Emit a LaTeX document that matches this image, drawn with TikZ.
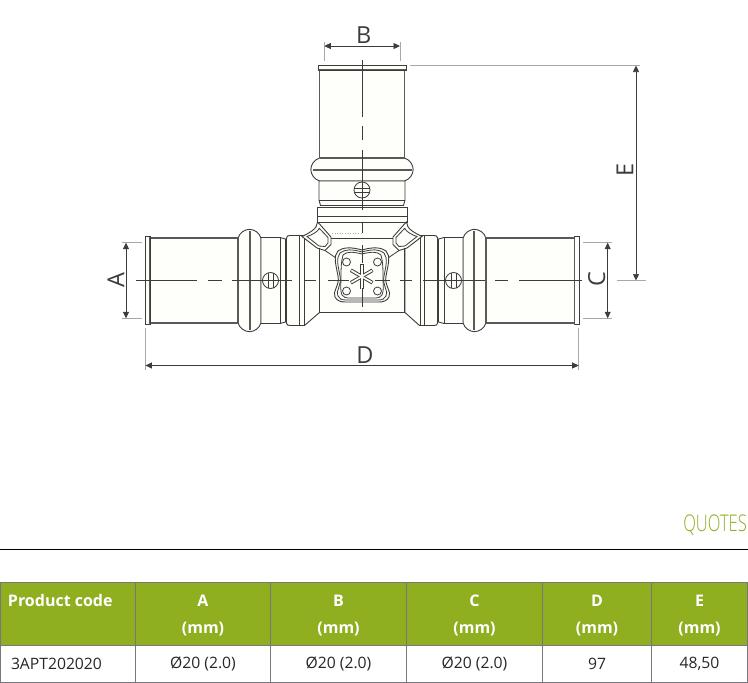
\documentclass[tikz,border=0pt]{standalone}
\usepackage{fontspec}
\usepackage{tikz}
\usetikzlibrary{arrows.meta}
\setmainfont{Open Sans}
\newfontfamily\lightfont{Open Sans Light}
\definecolor{linedark}{HTML}{3A3D3A}
\definecolor{linegray}{HTML}{A8A8A8}
\definecolor{headgreen}{HTML}{8FAE20}
\definecolor{cellgray}{HTML}{77777F}
\definecolor{tubecream}{HTML}{FEFEFA}
\tikzset{
	part/.style = {draw = linedark, line width = 0.9pt, fill = tubecream},
	edge/.style = {draw = linedark, line width = 0.8pt},
	heavy/.style = {draw = linedark!85, line width = 1.8pt},
	tubeline/.style = {draw = linedark!85, line width = 1.3pt},
	axisline/.style = {draw = linedark, line width = 0.9pt},
	extline/.style = {draw = linegray, line width = 0.9pt},
	dimline/.style = {draw = linedark, line width = 0.7pt, {Triangle[length=6.5pt,width=6pt]}-{Triangle[length=6.5pt,width=6pt]}},
	dimtext/.style = {font = \fontsize{23.5}{24}\selectfont, text = linedark, inner sep = 0pt},
	headcell/.style = {draw = cellgray, fill = headgreen, line width = 0.9pt, text = white, font = \fontsize{16}{19}\selectfont\bfseries, minimum height = 63pt, anchor = north west, inner sep = 0pt, outer sep = 0pt, align = center},
	bodycell/.style = {draw = cellgray, line width = 0.9pt, text = black!85, font = \fontsize{15.7}{15.7}\selectfont, minimum height = 37pt, anchor = north west, inner sep = 0pt, outer sep = 0pt},
}
% one press end, measured from the flange outwards
\newcommand{\pressarm}{
	\path[part, draw = none] (5,-42.5) rectangle (93,42.5);
	\draw[part] (93,-42.5) .. controls (97,-54) and (112,-54) .. (116,-42.5) -- (116,42.5) .. controls (112,54) and (97,54) .. (93,42.5) -- cycle;
	\draw[part] (116,-43) -- (135,-43) -- (140.5,-41.5) -- (140.5,41.5) -- (135,43) -- (116,43) -- cycle;
	\draw[tubeline] (5,-42.5) -- (93,-42.5) (5,42.5) -- (93,42.5);
	\draw[part] (0,-44) rectangle (5,44);
	\draw[heavy] (4.5,-44) -- (4.5,44);
	\draw[heavy] (93,-42.5) -- (93,42.5) (105,-49.5) -- (105,49.5);
	\draw[edge] (135,-43) -- (135,43);
}
\begin{document}
\begin{tikzpicture}[x = 1pt, y = -1pt]
	\useasboundingbox (0,0) rectangle (748,683);
	%press ends
	\begin{scope}[shift = {(145,280.5)}]
		\pressarm
	\end{scope}
	\begin{scope}[shift = {(579,280.5)}, x = {(-1pt,0pt)}]
		\pressarm
	\end{scope}
	\begin{scope}[shift = {(362,65)}, x = {(0pt,-1pt)}, y = {(1pt,0pt)}]
		\pressarm
	\end{scope}
	%collars and cones
	\draw[part] (286.5,238) .. controls (286.5,236) and (288,235.5) .. (290,235.5) -- (304.5,235.5) -- (319.5,248) -- (319.5,312.5) -- (304.5,325.5) -- (290,325.5) .. controls (288,325.5) and (286.5,325) .. (286.5,323) -- cycle;
	\draw[part] (437.5,238) .. controls (437.5,236) and (436,235.5) .. (434,235.5) -- (419.5,235.5) -- (405,248) -- (405,312.5) -- (419.5,325.5) -- (434,325.5) .. controls (436,325.5) and (437.5,325) .. (437.5,323) -- cycle;
	\draw[edge] (299.5,235.5) -- (299.5,325.5) (304,235.5) -- (304,325.5) (424.5,235.5) -- (424.5,325.5) (420,235.5) -- (420,325.5);
	\draw[part, draw = none] (319.5,222) rectangle (405,312.5);
	\draw[part] (317,207.5) rectangle (407,222);
	\draw[edge] (317,216) -- (407,216);
	%left and right shoulders
	\foreach \mirror/\base in {1/0, -1/724}{
		\begin{scope}[shift = {(\base,0)}, x = {(\mirror*1pt,0pt)}]
			\draw[part] (317.5,222) .. controls (317.5,229) and (309,233) .. (302,236.5) -- (317,248) -- (325,250.5) -- (331,244.5) -- (331,237) -- (319.5,224) -- cycle;
			\draw[edge] (319,229) .. controls (317,232) and (312,235) .. (307,236.5) -- (319,246) -- (325,246.5) -- (328,243) -- (328,237.5) -- (319,228);
			\draw[edge] (325,250.5) -- (336,258);
			\draw[edge] (319.5,248) -- (319.5,312.5);
		\end{scope}
	}
	\draw[edge] (331,238) -- (393,238);
	\draw[draw = linegray, line width = 0.6pt, dotted] (332,233.5) -- (362,233.5);
	\draw[edge] (319.5,312.5) -- (405,312.5);
	%square boss
	\draw[part] (362,250) .. controls (352,247) and (343,247) .. (338,251) .. controls (333,256) and (336,265) .. (338,276) .. controls (340,285) and (332,292) .. (335,297) .. controls (337,301) and (341,302) .. (345,302) -- (379,302) .. controls (383,302) and (387,301) .. (389,297) .. controls (392,292) and (384,285) .. (386,276) .. controls (388,265) and (391,256) .. (386,251) .. controls (381,247) and (372,247) .. (362,250) -- cycle;
	\draw[edge] (362,252) .. controls (352,249) and (345,249) .. (340,253) .. controls (336,258) and (338,266) .. (340,276) .. controls (342,285) and (335,292) .. (338,296) .. controls (339,299) and (342,300) .. (346,300) -- (378,300) .. controls (382,300) and (385,299) .. (386,296) .. controls (389,292) and (382,285) .. (384,276) .. controls (386,266) and (388,258) .. (384,253) .. controls (379,249) and (372,249) .. (362,252) -- cycle;
	\draw[edge] (362,254) .. controls (354,252) and (347,251) .. (343,255) .. controls (341,262) and (341,270) .. (341,276) .. controls (341,285) and (340,291) .. (342,295) .. controls (344,297.5) and (346,298) .. (348,298) -- (376,298) .. controls (378,298) and (380,297.5) .. (382,295) .. controls (384,291) and (383,285) .. (383,276) .. controls (383,270) and (383,262) .. (381,255) .. controls (377,251) and (370,252) .. (362,254) -- cycle;
	\foreach \cx/\cy in {346.5/262, 377.5/262, 346.5/291, 377.5/291}
		\draw[edge] (\cx,\cy) circle (4);
	%star on the boss
	\foreach \angle in {90, 30, -30}
		\draw[draw = linedark, line width = 3.6pt] (361.7,276.5) ++(\angle:12.5) -- ++(\angle:-25);
	\foreach \angle in {90, 30, -30}
		\draw[draw = tubecream, line width = 1.7pt] (361.7,276.5) ++(\angle:12) -- ++(\angle:-24);
	%center lines
	\draw[axisline] (136,280.5) -- (197,280.5) (208,280.5) -- (222,280.5) (232,280.5) -- (292,280.5);
	\draw[axisline] (305,280.5) -- (316,280.5) (328,280.5) -- (349,280.5) (375,280.5) -- (390,280.5) (400,280.5) -- (412,280.5) (423,280.5) -- (485,280.5) (495,280.5) -- (508,280.5) (519,280.5) -- (582,280.5);
	\draw[axisline] (362,60) -- (362,117) (362,126) -- (362,140) (362,150) -- (362,210) (362,222) -- (362,233) (362,245) -- (362,263) (362,288) -- (362,307);
	%bracket holes
	\foreach \cx/\cy in {270.5/280.5, 453.5/280.5}{
		\draw[edge] (\cx,\cy) circle (8);
		\draw[edge] (\cx-8,\cy) -- (\cx+8,\cy) (\cx-2.5,\cy-7.5) -- (\cx-2.5,\cy+7.5) (\cx+2.5,\cy-7.5) -- (\cx+2.5,\cy+7.5);
	}
	\draw[edge] (362,190) circle (8);
	\draw[edge] (362,182) -- (362,198) (354,188) -- (370,188) (354,192.5) -- (370,192.5);
	%extension lines
	\draw[extline] (121.5,242.7) -- (141.5,242.7) (121.5,318.3) -- (141.5,318.3);
	\draw[extline] (583,242.7) -- (612,242.7) (583,318.3) -- (612,318.3);
	\draw[extline] (324.3,42) -- (324.3,60.5) (400,42) -- (400,60.5);
	\draw[extline] (410,65.5) -- (640,65.5) (617,280.5) -- (646,280.5);
	\draw[extline] (145.4,328) -- (145.4,370) (578.7,328) -- (578.7,370);
	%dimension lines
	\draw[dimline] (126,242.7) -- (126,318.3);
	\draw[dimline] (607.7,242.7) -- (607.7,318.3);
	\draw[dimline] (324.3,46) -- (400,46);
	\draw[dimline] (636,65.5) -- (636,280.5);
	\draw[dimline] (145.4,365.5) -- (578.7,365.5);
	\node[dimtext, rotate = 90] (labelA) at (116,280.5) {A};
	\node[dimtext] (labelB) at (363.7,35.5) {B};
	\node[dimtext, rotate = 90] (labelC) at (596.7,279) {C};
	\node[dimtext] (labelD) at (365,355) {D};
	\node[dimtext, rotate = 90] (labelE) at (625,170) {E};
	%title and rule
	\node[text = headgreen, font = \lightfont\fontsize{23}{23}\selectfont, xscale = 0.72, anchor = east, inner sep = 0pt] (quotes) at (747,525.5) {QUOTES};
	\draw[line width = 1pt, draw = black] (0,549.3) -- (748,549.3);
	%table
	\node[headcell, minimum width = 135pt] (headcode) at (0.5,582.3) {};
	\node[headcell, minimum width = 135pt] (headA) at (135.5,582.3) {};
	\node[headcell, minimum width = 136pt] (headB) at (270.5,582.3) {};
	\node[headcell, minimum width = 136pt] (headC) at (406.5,582.3) {};
	\node[headcell, minimum width = 109pt] (headD) at (542.5,582.3) {};
	\node[headcell, minimum width = 96pt] (headE) at (651.5,582.3) {};
	\node[headcell, draw = none, fill = none, minimum height = 0pt] (textcode) at (8,594.5) {Product code};
	\foreach \col/\txt in {headA/A, headB/B, headC/C, headD/D, headE/E}
		\node[headcell, draw = none, fill = none, minimum height = 0pt, anchor = center, font = \fontsize{16}{26.5}\selectfont\bfseries] at ([yshift = -1.5pt]\col) {\txt\\(mm)};
	\node[bodycell, minimum width = 135pt] (bodycode) at (0.5,645.3) {};
	\node[bodycell, minimum width = 135pt] (bodyA) at (135.5,645.3) {\O20 (2.0)};
	\node[bodycell, minimum width = 136pt] (bodyB) at (270.5,645.3) {\O20 (2.0)};
	\node[bodycell, minimum width = 136pt] (bodyC) at (406.5,645.3) {\O20 (2.0)};
	\node[bodycell, minimum width = 109pt] (bodyD) at (542.5,645.3) {97};
	\node[bodycell, minimum width = 96pt] (bodyE) at (651.5,645.3) {48,50};
	\node[bodycell, draw = none, minimum height = 0pt, anchor = west] (textbody) at (11,664.3) {3APT202020};
\end{tikzpicture}
\end{document}
